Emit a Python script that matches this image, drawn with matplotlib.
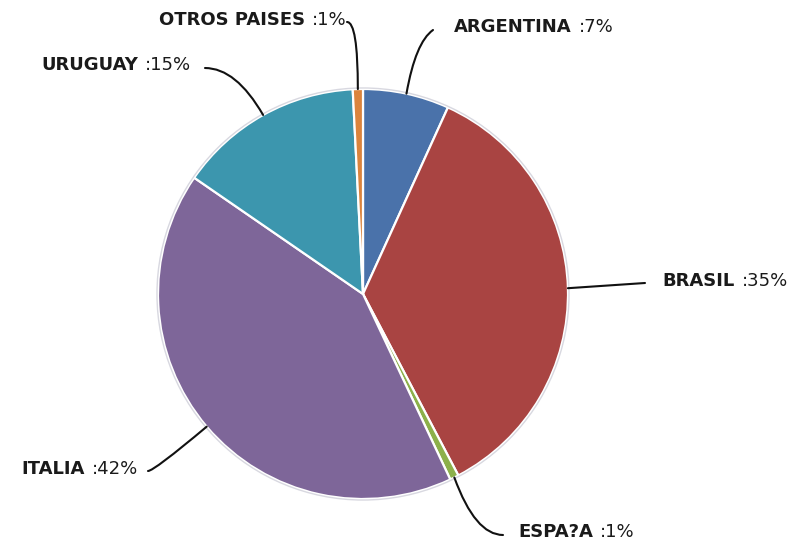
import matplotlib
matplotlib.use("Agg")
import matplotlib.pyplot as plt
import numpy as np

# ── data ──────────────────────────────────────────────────────────────────
countries = ["ARGENTINA", "BRASIL", "ESPA?A", "ITALIA", "URUGUAY", "OTROS PAISES"]
shares = [6.8, 35.5, 0.7, 41.6, 14.6, 0.8]
pct_labels = ["7%", "35%", "1%", "42%", "15%", "1%"]
colors = ["#4A72AA", "#A94442", "#8CB04A", "#7E6699", "#3C96AE", "#DB843D"]

# ── layout (pixel positions in the 798x544 image) ──────────────────────────
W, H = 798, 544
CX, CY, R = 363, 294, 205

# where each label's name ends, and where its leader line ends
name_end = [(572, 27), (735, 281), (593, 532), (85, 469), (138, 65), (305, 20)]
line_end = [(433, 30), (645, 283), (503, 535), (148, 471), (205, 68), (347, 22)]
conn = [
    "angle3,angleA=35,angleB=80",
    "arc3,rad=0",
    "angle3,angleA=0,angleB=110",
    "angle3,angleA=0,angleB=40",
    "angle3,angleA=0,angleB=120",
    "angle3,angleA=0,angleB=90",
]

plt.rcParams["font.family"] = ["DejaVu Sans"]


def px(x, y):
    return (x - CX) / R, (CY - y) / R


fig = plt.figure(figsize=(W / 100, H / 100), dpi=100)
ax = fig.add_axes([0, 0, 1, 1])

wedges, _ = ax.pie(shares, colors=colors, startangle=90, counterclock=False,
                   radius=1, wedgeprops=dict(edgecolor="white", linewidth=1.6))

# faint outline round the whole pie
ax.add_patch(plt.Circle((0, 0), 1.005, fill=False, edgecolor="#d8d8e0", lw=1))

ax.set_xlim((0 - CX) / R, (W - CX) / R)
ax.set_ylim((CY - H) / R, CY / R)
ax.axis("off")

for i, w in enumerate(wedges):
    ang = np.deg2rad((w.theta1 + w.theta2) / 2)
    anchor = (np.cos(ang), np.sin(ang))
    ax.annotate("", xy=anchor, xytext=px(*line_end[i]),
                arrowprops=dict(arrowstyle="-", color="#111111", lw=1.5,
                                shrinkA=0, shrinkB=0, connectionstyle=conn[i]))
    nx, ny = px(*name_end[i])
    ax.text(nx, ny, countries[i], ha="right", va="center", fontsize=13,
            fontweight="bold", color="#1a1a1a")
    ax.text(nx + 7 / R, ny, ":" + pct_labels[i], ha="left", va="center",
            fontsize=13, color="#1a1a1a")

plt.savefig("out.png", dpi=100)
